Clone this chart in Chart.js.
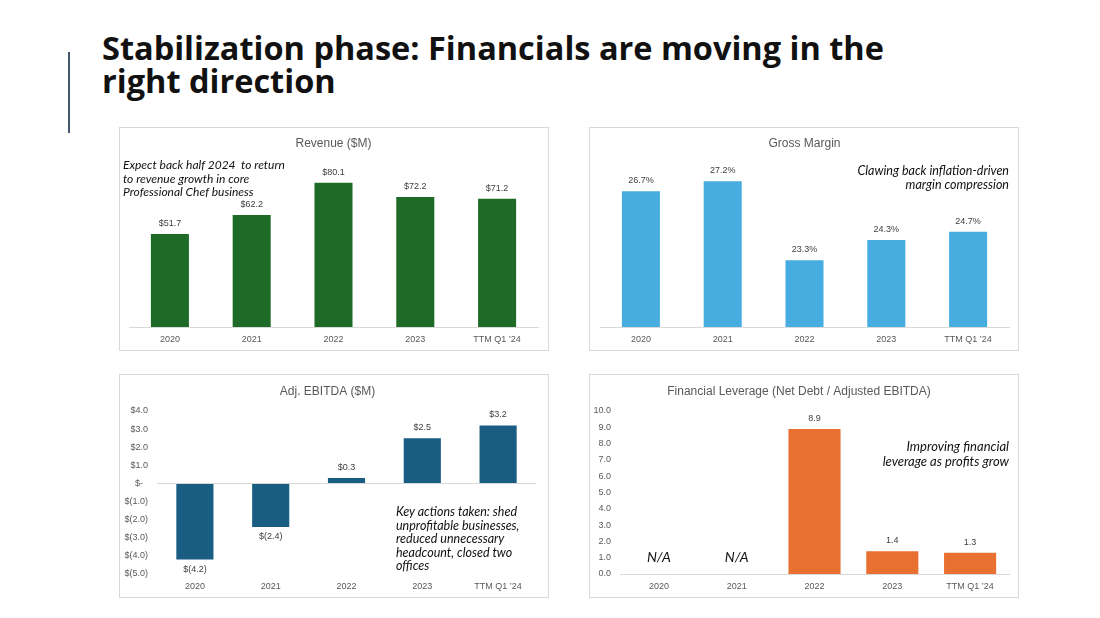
<!DOCTYPE html>
<html>
<head>
<meta charset="utf-8">
<script src="https://cdn.jsdelivr.net/npm/chart.js@4/dist/chart.umd.min.js"></script>
<style>
  html, body { margin: 0; padding: 0; background: #ffffff; }
  body { width: 1100px; height: 618px; position: relative; overflow: hidden; font-family: "Liberation Sans", Arial, sans-serif; }
  .title { position: absolute; left: 102px; top: 31px; font-family: "Open Sans", "Noto Sans", sans-serif; font-weight: 700; font-size: 32.5px; line-height: 33px; color: #111; white-space: nowrap; }
  .vline { position: absolute; left: 68px; top: 52px; width: 2px; height: 81px; background: #44546a; }
  .panel { position: absolute; width: 430px; height: 224px; border: 1px solid #d9d9d9; box-sizing: border-box; background: #fff; }
  .panel canvas { position: absolute; left: -1px; top: -1px; }
  .note { position: absolute; font-family: Lato, "Open Sans", sans-serif; font-style: italic; color: #111; white-space: nowrap; }
</style>
</head>
<body>
<div class="vline"></div>
<div class="title">Stabilization phase: Financials are moving in the<br>right direction</div>

<div class="panel" style="left:119px; top:127px;"><canvas id="c1" width="430" height="224"></canvas></div>
<div class="panel" style="left:589px; top:127px;"><canvas id="c2" width="430" height="224"></canvas></div>
<div class="panel" style="left:119px; top:374px;"><canvas id="c3" width="430" height="224"></canvas></div>
<div class="panel" style="left:589px; top:374px;"><canvas id="c4" width="430" height="224"></canvas></div>

<div class="note" style="left:123px; top:158px; font-size:12px; line-height:13.5px;">Expect back half 2024&nbsp; to return<br>to revenue growth in core<br>Professional Chef business</div>
<div class="note" style="right:91px; top:164px; font-size:12.5px; line-height:14px; text-align:right;">Clawing back inflation-driven<br>margin compression</div>
<div class="note" style="left:396px; top:505px; font-size:12.5px; line-height:13.5px;">Key actions taken: shed<br>unprofitable businesses,<br>reduced unnecessary<br>headcount, closed two<br>offices</div>
<div class="note" style="right:91px; top:439px; font-size:13px; line-height:15px; text-align:right;">Improving financial<br>leverage as profits grow</div>

<script>
const categories = ['2020', '2021', '2022', '2023', 'TTM Q1 \u201924'];
const revenue = [51.7, 62.2, 80.1, 72.2, 71.2];
const grossMargin = [26.7, 27.2, 23.3, 24.3, 24.7];
const ebitda = [-4.2, -2.4, 0.3, 2.5, 3.2];
const leverage = [null, null, 8.9, 1.4, 1.3];
const ebitdaTicks = [4, 3, 2, 1, 0, -1, -2, -3, -4, -5];
const leverageTicks = [0, 1, 2, 3, 4, 5, 6, 7, 8, 9, 10];

const TICK_COLOR = '#595959';
const TICK_FONT = { family: '"Liberation Sans", Arial, sans-serif', size: 9 };
const AXIS_LINE = '#d9d9d9';

function money(v) {
  if (Math.abs(v) < 1e-9) return '$-  ';
  return v < 0 ? '$(' + Math.abs(v).toFixed(1) + ')' : '$' + v.toFixed(1);
}

const valueLabels = {
  id: 'valueLabels',
  afterDatasetsDraw(chart, args, opts) {
    const ctx = chart.ctx;
    const meta = chart.getDatasetMeta(0);
    const data = chart.data.datasets[0].data;
    ctx.save();
    ctx.textAlign = 'center';
    ctx.textBaseline = 'middle';
    meta.data.forEach((bar, i) => {
      const v = data[i];
      if (v === null || v === undefined) {
        if (opts.naText) {
          ctx.font = 'italic 14px Lato, "Open Sans", sans-serif';
          ctx.fillStyle = '#111';
          ctx.fillText(opts.naText, bar.x, chart.scales.y.getPixelForValue(opts.naValue));
        }
        return;
      }
      ctx.font = '9px "Liberation Sans", Arial, sans-serif';
      ctx.fillStyle = '#404040';
      const txt = opts.format(v);
      if (v < 0) ctx.fillText(txt, bar.x, bar.y + 10);
      else ctx.fillText(txt, bar.x, bar.y - 10.5);
    });
    ctx.restore();
  }
};

function makeChart(id, cfg) {
  const xAxis = {
    grid: { display: false, drawTicks: false },
    border: { display: cfg.xBorder !== false, color: AXIS_LINE, width: 1 },
    ticks: { color: TICK_COLOR, font: TICK_FONT, padding: 7, maxRotation: 0, autoSkip: false },
    afterFit: (s) => { s.height = 24; }
  };
  const yAxis = Object.assign({
    display: cfg.yDisplay,
    min: cfg.min, max: cfg.max,
    border: { display: false },
    grid: { display: !!cfg.zeroLine, drawTicks: false, color: (c) => (c.tick && c.tick.value === 0 ? AXIS_LINE : 'rgba(0,0,0,0)'), lineWidth: 1 },
    ticks: { color: TICK_COLOR, font: TICK_FONT, padding: 9, stepSize: 1, callback: cfg.tickFormat },
    afterFit: (s) => { if (cfg.yWidth) s.width = cfg.yWidth; }
  }, cfg.yExtra || {});
  return new Chart(document.getElementById(id), {
    type: 'bar',
    data: {
      labels: categories,
      datasets: [{ data: cfg.data, backgroundColor: cfg.color, barPercentage: cfg.barPct, categoryPercentage: 1 }]
    },
    options: {
      responsive: false,
      devicePixelRatio: 1,
      animation: false,
      layout: { padding: { left: cfg.padL, right: cfg.padR, top: 0, bottom: 0 } },
      plugins: {
        legend: { display: false },
        tooltip: { enabled: false },
        title: {
          display: true, text: cfg.title, color: '#595959',
          font: { family: '"Liberation Sans", Arial, sans-serif', size: 12, weight: 'normal', lineHeight: 1.2 },
          padding: { top: cfg.titleTop, bottom: cfg.titleBottom }
        },
        valueLabels: { format: cfg.labelFormat, naText: cfg.naText, naValue: cfg.naValue }
      },
      scales: { x: xAxis, y: yAxis }
    },
    plugins: [valueLabels]
  });
}

makeChart('c1', {
  title: 'Revenue ($M)', data: revenue, color: '#1d6b27', barPct: 0.465,
  min: 0, max: 90, yDisplay: false, padL: 10, padR: 11, titleTop: 9, titleBottom: 14.6,
  labelFormat: (v) => '$' + v.toFixed(1)
});
makeChart('c2', {
  title: 'Gross Margin', data: grossMargin, color: '#47ade0', barPct: 0.465,
  min: 20, max: 28, yDisplay: false, padL: 11, padR: 10, titleTop: 9, titleBottom: 14.6,
  labelFormat: (v) => v.toFixed(1) + '%'
});
makeChart('c3', {
  title: 'Adj. EBITDA ($M)', data: ebitda, color: '#1a5d82', barPct: 0.49,
  min: -5, max: 4, yDisplay: true, yWidth: 38, padL: 0, padR: 13, titleTop: 10, titleBottom: 12.6,
  zeroLine: true, xBorder: false, tickFormat: (v) => money(v),
  yExtra: { afterBuildTicks: (s) => { s.ticks = ebitdaTicks.map(v => ({ value: v })); } },
  labelFormat: money
});
makeChart('c4', {
  title: 'Financial Leverage (Net Debt / Adjusted EBITDA)', data: leverage, color: '#e87131', barPct: 0.67,
  min: 0, max: 10, yDisplay: true, yWidth: 31, padL: 0, padR: 10, titleTop: 10, titleBottom: 12.6,
  tickFormat: (v) => v.toFixed(1),
  yExtra: { afterBuildTicks: (s) => { s.ticks = leverageTicks.map(v => ({ value: v })); } },
  labelFormat: (v) => v.toFixed(1), naText: 'N/A', naValue: 1.0
});
</script>
</body>
</html>
